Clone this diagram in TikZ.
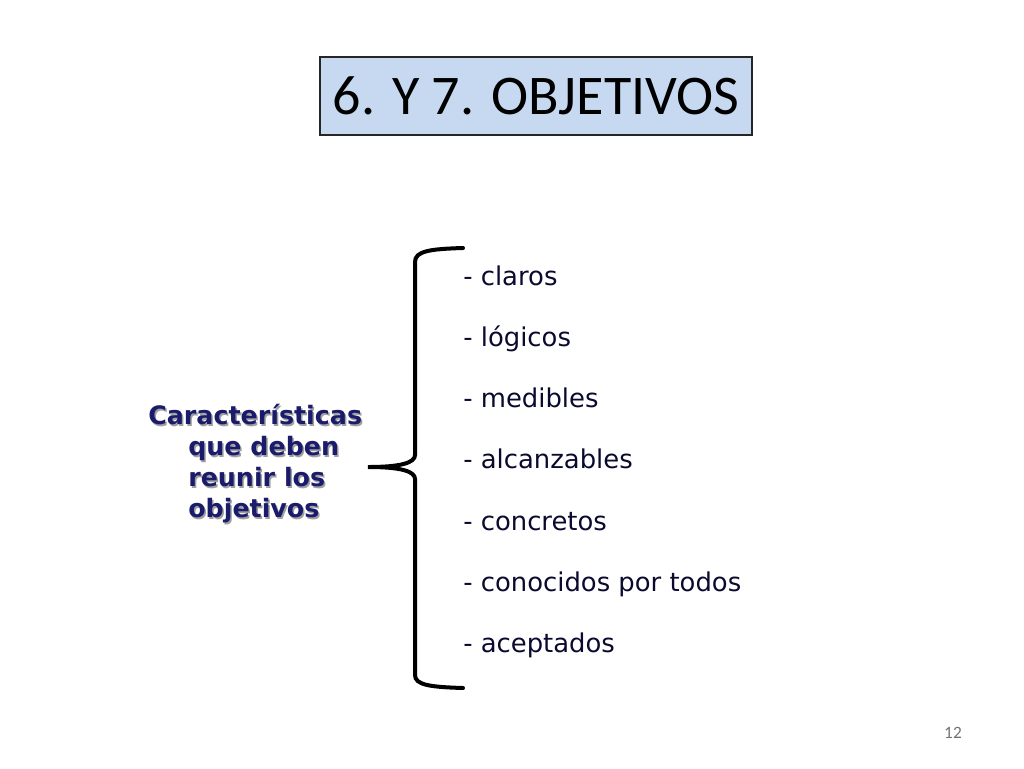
\documentclass[tikz,border=0pt]{standalone}
\usepackage{fontspec}
\setmainfont{Carlito}
\newfontfamily\verd{DejaVu Sans}

\definecolor{titlefill}{HTML}{C6D9F1}
\definecolor{itemink}{HTML}{0A0A2E}
\definecolor{labelink}{HTML}{1B1B6B}
\definecolor{shadowink}{HTML}{A0A0A0}

\tikzset{
    titlebox/.style={draw=black!85, line width=1.5pt, fill=titlefill,
        minimum width=324pt, minimum height=59pt, inner sep=0pt,
        font=\fontsize{42}{42}\selectfont},
    itemtext/.style={anchor=base west, inner sep=0pt, text=itemink,
        font=\verd\fontsize{19.4}{19.4}\selectfont},
    labeltext/.style={anchor=north west, inner sep=0pt, align=left,
        font=\verd\bfseries\fontsize{19}{23.3}\selectfont},
    bracket/.style={line width=3pt, line cap=round}
}

\begin{document}
\begin{tikzpicture}[x=0.75pt, y=-0.75pt]

    \useasboundingbox (0,0) rectangle (1024,768);

    % title
    \node[titlebox] (title) at (536,96) {6. Y 7. OBJETIVOS};

    % left label (with shadow)
    \node[labeltext, text=shadowink] (labelshadow) at (149.5,405.5)
        {Características\\\hspace*{30pt}que deben\\\hspace*{30pt}reunir los\\\hspace*{30pt}objetivos};
    \node[labeltext, text=labelink] (label) at (148,404)
        {Características\\\hspace*{30pt}que deben\\\hspace*{30pt}reunir los\\\hspace*{30pt}objetivos};

    % list
    \foreach \i/\txt in {
        1/claros,
        2/lógicos,
        3/medibles,
        4/alcanzables,
        5/concretos,
        6/conocidos por todos,
        7/aceptados
    }{
        \node[itemtext] (item\i) at (463,{285+61.3*(\i-1)}) {- \txt};
    }

    % brace
    \coordinate (tip) at (368,467);
    \coordinate (top) at (463,248);
    \coordinate (bottom) at (463,688);
    \draw[bracket]
        (top) .. controls (430,249) and (415,251) .. (415,262)
        -- (415,455)
        .. controls (415,463) and (400,467) .. (tip)
        .. controls (400,467) and (415,471) .. (415,479)
        -- (415,675)
        .. controls (415,685) and (430,687) .. (bottom);

    % slide number
    \node[text=black!55, font=\fontsize{13}{13}\selectfont] (pagenum) at (953,733) {12};

\end{tikzpicture}
\end{document}
